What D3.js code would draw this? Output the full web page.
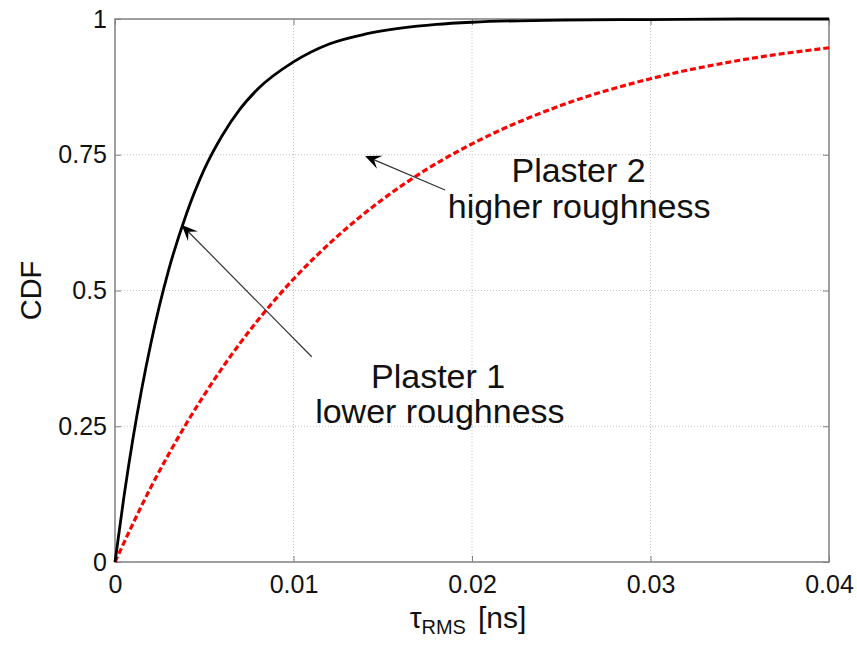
<!DOCTYPE html>
<html>
<head>
<meta charset="utf-8">
<script src="https://cdn.jsdelivr.net/npm/d3@7"></script>
<style>
  body { margin: 0; background: #fff; }
  svg text { font-family: Arial, "Liberation Sans", sans-serif; fill: #111; }
</style>
</head>
<body>
<div id="chart"></div>
<script>
// values
var tauBlack = [0, 0.0005, 0.001, 0.0015, 0.002, 0.003, 0.004, 0.005, 0.006, 0.007, 0.008, 0.01, 0.012, 0.014, 0.016, 0.018, 0.02, 0.025, 0.03, 0.035, 0.04];
var cdfPlaster1 = [0, 0.12, 0.226, 0.319, 0.401, 0.537, 0.641, 0.723, 0.785, 0.834, 0.871, 0.921, 0.954, 0.972, 0.983, 0.99, 0.994, 0.998, 0.999, 1.0, 1.0];

var tauRed = [0, 0.002, 0.004, 0.006, 0.008, 0.01, 0.0125, 0.015, 0.0175, 0.02, 0.025, 0.03, 0.035, 0.04];
var cdfPlaster2 = [0, 0.137, 0.255, 0.357, 0.445, 0.521, 0.601, 0.668, 0.724, 0.77, 0.841, 0.89, 0.924, 0.947];

var xTicks = [0, 0.01, 0.02, 0.03, 0.04];
var yTicks = [0, 0.25, 0.5, 0.75, 1];
var xTickLabels = ["0", "0.01", "0.02", "0.03", "0.04"];
var yTickLabels = ["0", "0.25", "0.5", "0.75", "1"];

// annotations: [tail x, tail y, tip x, tip y] in data units
var arrow1 = [0.01102, 0.378, 0.00374, 0.6206];
var arrow2 = [0.01849, 0.685, 0.01401, 0.7477];

var margin = { left: 115, right: 28, top: 19, bottom: 84 };
var width = 857 - margin.left - margin.right;
var height = 646 - margin.top - margin.bottom;

var svg = d3.select("#chart")
	.append("svg")
	.attr("width", 857)
	.attr("height", 646);

var g = svg.append("g")
	.attr("transform", "translate(" + margin.left + "," + margin.top + ")");

var x = d3.scaleLinear().domain([0, 0.04]).range([0, width]);
var y = d3.scaleLinear().domain([0, 1]).range([height, 0]);

// grid lines
g.append("g")
	.selectAll("line")
	.data(xTicks.slice(1, -1))
	.enter().append("line")
	.attr("x1", function(d){ return x(d); })
	.attr("x2", function(d){ return x(d); })
	.attr("y1", 0)
	.attr("y2", height)
	.attr("stroke", "#c4c4c4")
	.attr("stroke-width", 1)
	.attr("stroke-dasharray", "1,2");

g.append("g")
	.selectAll("line")
	.data(yTicks.slice(1, -1))
	.enter().append("line")
	.attr("y1", function(d){ return y(d); })
	.attr("y2", function(d){ return y(d); })
	.attr("x1", 0)
	.attr("x2", width)
	.attr("stroke", "#c4c4c4")
	.attr("stroke-width", 1)
	.attr("stroke-dasharray", "1,2");

// axes, ticks pointing inward
var xAxisCall = d3.axisBottom(x)
	.tickValues(xTicks)
	.tickSize(-6)
	.tickPadding(13)
	.tickFormat(function(d, i){ return xTickLabels[i]; });
var yAxisCall = d3.axisLeft(y)
	.tickValues(yTicks)
	.tickSize(-6)
	.tickPadding(8)
	.tickFormat(function(d, i){ return yTickLabels[i]; });

var xg = g.append("g")
	.attr("transform", "translate(0," + height + ")")
	.call(xAxisCall);
var yg = g.append("g").call(yAxisCall);

g.append("g").call(d3.axisTop(x).tickValues(xTicks).tickSize(-6).tickFormat(""));
g.append("g")
	.attr("transform", "translate(" + width + ",0)")
	.call(d3.axisRight(y).tickValues(yTicks).tickSize(-6).tickFormat(""));

g.selectAll(".domain").remove();
g.selectAll(".tick line").attr("stroke", "#808080").attr("stroke-width", 1);
g.selectAll(".tick text")
	.attr("font-size", "25px")
	.attr("font-family", "Arial, 'Liberation Sans', sans-serif")
	.attr("fill", "#111");

// box
g.append("rect")
	.attr("width", width)
	.attr("height", height)
	.attr("fill", "none")
	.attr("stroke", "#808080")
	.attr("stroke-width", 1.5);

// curves
var line = d3.line()
	.x(function(d){ return x(d[0]); })
	.y(function(d){ return y(d[1]); })
	.curve(d3.curveMonotoneX);

var redData = tauRed.map(function(t, i){ return [t, cdfPlaster2[i]]; });
var blackData = tauBlack.map(function(t, i){ return [t, cdfPlaster1[i]]; });

g.append("path")
	.datum(redData)
	.attr("d", line)
	.attr("fill", "none")
	.attr("stroke", "#f00")
	.attr("stroke-width", 3.2)
	.attr("stroke-dasharray", "6,3");

g.append("path")
	.datum(blackData)
	.attr("d", line)
	.attr("fill", "none")
	.attr("stroke", "#000")
	.attr("stroke-width", 2.8);

// arrows
function drawArrow(a){
	var x0 = x(a[0]), y0 = y(a[1]), x1 = x(a[2]), y1 = y(a[3]);
	var ang = Math.atan2(y1 - y0, x1 - x0);
	g.append("line")
		.attr("x1", x0).attr("y1", y0)
		.attr("x2", x1 - 8 * Math.cos(ang)).attr("y2", y1 - 8 * Math.sin(ang))
		.attr("stroke", "#333")
		.attr("stroke-width", 1.2);
	// matlab style head
	var L = 16, W = 7;
	var pts = [
		[0, 0],
		[-L, -W],
		[-L * 0.6, 0],
		[-L, W]
	];
	g.append("path")
		.attr("d", "M" + pts.map(function(p){ return p.join(","); }).join("L") + "Z")
		.attr("transform", "translate(" + x1 + "," + y1 + ") rotate(" + (ang * 180 / Math.PI) + ")")
		.attr("fill", "#000");
}
drawArrow(arrow1);
drawArrow(arrow2);

// annotation text
function label(txt, xv, yv){
	g.append("text")
		.attr("x", x(xv))
		.attr("y", y(yv))
		.attr("text-anchor", "middle")
		.attr("font-size", "34px")
		.text(txt);
}
label("Plaster 2", 0.02597, 0.7004);
label("higher roughness", 0.02600, 0.6335);
label("Plaster 1", 0.0181, 0.3204);
label("lower roughness", 0.0182, 0.256);

// axis titles
svg.append("text")
	.attr("transform", "translate(41," + (margin.top + height / 2) + ") rotate(-90)")
	.attr("text-anchor", "middle")
	.attr("font-size", "29px")
	.text("CDF");

var xt = svg.append("text")
	.attr("x", margin.left + width / 2 - 4)
	.attr("y", 628)
	.attr("text-anchor", "middle")
	.attr("font-size", "30px");
xt.append("tspan").text("\u03C4");
xt.append("tspan").attr("font-size", "20px").attr("dy", 6).text("RMS");
xt.append("tspan").attr("dy", -6).attr("dx", 12).text("[ns]");
</script>
</body>
</html>
